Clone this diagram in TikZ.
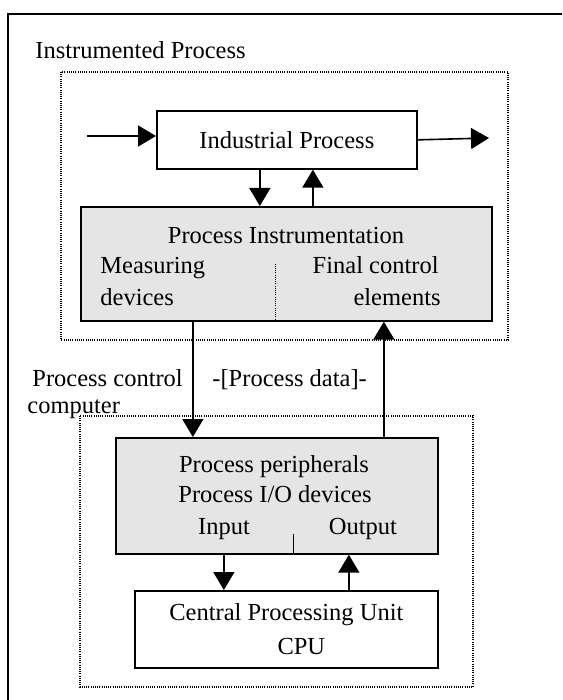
\documentclass[tikz,border=0pt]{standalone}
\usepackage{fontspec}
\setmainfont{Liberation Serif}
\usetikzlibrary{positioning,arrows.meta,calc}
\tikzset{
  block/.style={draw=black, line width=0.85pt, inner sep=0pt},
  shaded/.style={block, fill=black!10},
  enclosure/.style={draw=black, line width=0.55pt, dash pattern=on 0.5pt off 0.6pt},
  flow/.style={line width=0.8pt, -{Triangle[length=9pt,width=10.5pt]}},
  lbl/.style={inner sep=0pt, font=\fontsize{12.25}{17}\selectfont}
}
\begin{document}
\begin{tikzpicture}[x=0.5pt,y=-0.5pt,font=\fontsize{12.25}{17}\selectfont]
  \path[use as bounding box, clip] (0,0) rectangle (562,700);
  % outer frame, open to the right and below
  \draw[line width=1pt] (7.5,720) |- (580,14);
  \node[lbl, anchor=base west] (title) at (35,59) {Instrumented Process};
  \draw[enclosure] (61,72) rectangle (508,340);
  \draw[enclosure] (80,416) rectangle (473,687);

  % the boxes
  \node[block, anchor=north west, minimum width=130pt, minimum height=29pt] (ind) at (156,110) {Industrial Process};
  \node[shaded, anchor=north west, minimum width=205.5pt, minimum height=57pt] (instr) at (80,206) {};
  \node[shaded, anchor=north west, minimum width=161pt, minimum height=58pt] (perip) at (115,437) {};
  \node[block, anchor=north west, minimum width=151.5pt, minimum height=38.5pt, align=center] (cpu) at (134,590)
    {Central Processing Unit\\\hspace*{15pt}CPU};

  % texts inside the shaded boxes
  \node[lbl, anchor=base] (instrt) at (286,243) {Process Instrumentation};
  \node[lbl, anchor=base west] (meas) at (100,273) {Measuring};
  \node[lbl, anchor=base west] (devs) at (100,305) {devices};
  \node[lbl, anchor=base east] (fin) at (439,273) {Final control};
  \node[lbl, anchor=base east] (elem) at (441,305) {elements};
  \node[lbl, anchor=base] (pper) at (274,472) {Process peripherals};
  \node[lbl, anchor=base] (pio) at (275,502) {Process I/O devices};
  \node[lbl, anchor=base] (inp) at (224,534) {Input};
  \node[lbl, anchor=base] (outp) at (363,534) {Output};

  % texts between the enclosures
  \node[lbl, anchor=base west] (pctl) at (32,386) {Process control};
  \node[lbl, anchor=base west] (comp) at (27,413) {computer};
  \node[lbl, anchor=base west] (pdata) at (212,386) {-[Process data]-};

  % separators
  \draw[enclosure] ($(instr.south)+(-10.5,0)$) -- ++(0,-58);
  \draw[line width=0.6pt] ($(perip.south)+(17,0)$) -- ++(0,-21);

  % material flow through the process
  \coordinate (src) at (87,136);
  \coordinate (snk) at (489,138);
  \draw[flow] (src) -- (src -| ind.west);
  \draw[flow] (ind.east) -- (snk);

  % signal paths
  \coordinate (d1) at ($(ind.south)+(-27,0)$);
  \coordinate (u1) at ($(ind.south)+(26,0)$);
  \coordinate (d2) at ($(instr.south)+(-93.5,0)$);
  \coordinate (u2) at ($(instr.south)+(97.5,0)$);
  \coordinate (d3) at ($(perip.south)+(-53,0)$);
  \coordinate (u3) at ($(perip.south)+(72,0)$);
  \draw[flow] (d1) -- (d1 |- instr.north);
  \draw[flow] (u1 |- instr.north) -- (u1);
  \draw[flow] (d2) -- (d2 |- perip.north);
  \draw[flow] (u2 |- perip.north) -- (u2);
  \draw[flow] (d3) -- (d3 |- cpu.north);
  \draw[flow] (u3 |- cpu.north) -- (u3);
\end{tikzpicture}
\end{document}
